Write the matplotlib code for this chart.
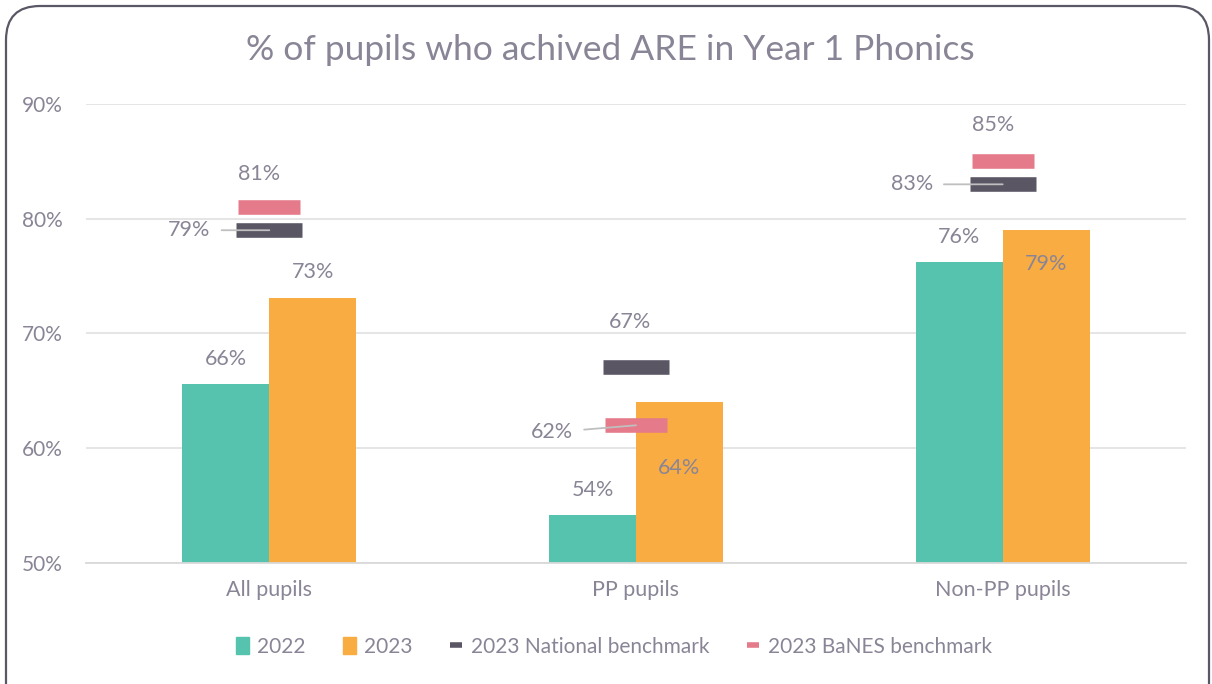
import matplotlib
matplotlib.use("Agg")
import matplotlib.pyplot as plt
import matplotlib.patches as mpatches
from matplotlib.lines import Line2D
from matplotlib.transforms import IdentityTransform
import numpy as np

categories = ["All pupils", "PP pupils", "Non-PP pupils"]
vals_2022 = [65.6, 54.2, 76.2]
vals_2023 = [73.1, 64.0, 79.0]
national = [79.0, 67.1, 83.0]
banes = [81.0, 62.0, 85.0]
labels_2022 = ["66%", "54%", "76%"]
labels_2023 = ["73%", "64%", "79%"]
labels_nat = ["79%", "67%", "83%"]
labels_banes = ["81%", "62%", "85%"]
yticks = [50, 60, 70, 80, 90]
ytick_labels = ["50%", "60%", "70%", "80%", "90%"]

TEAL = "#56C3AE"
ORANGE = "#F9AC42"
DARK = "#5B5664"
PINK = "#E57A8A"
TXT = "#8A8596"
GRID = "#E3E3E3"

plt.rcParams["font.family"] = ["Lato", "DejaVu Sans"]

W, H = 1212, 684
fig = plt.figure(figsize=(W / 100, H / 100), dpi=100)
ax = fig.add_axes([86 / W, 1 - 563 / H, 1100 / W, (563 - 104) / H])

x = np.arange(len(categories))
bw = 0.237
ax.bar(x - bw / 2, vals_2022, bw, color=TEAL, zorder=2)
ax.bar(x + bw / 2, vals_2023, bw, color=ORANGE, zorder=2)
ax.plot(x, national, linestyle="none", marker="_", markersize=47,
        markeredgewidth=10.5, color=DARK, zorder=3)
ax.plot(x, banes, linestyle="none", marker="_", markersize=44,
        markeredgewidth=10.5, color=PINK, zorder=3)

ax.set_ylim(50, 90)
ax.set_xlim(-0.5, 2.5)
ax.set_yticks(yticks)
ax.set_yticklabels(ytick_labels)
ax.set_xticks(x)
ax.set_xticklabels(categories)
ax.tick_params(axis="both", length=0, colors=TXT)
ax.tick_params(axis="y", pad=17, labelsize=15)
ax.tick_params(axis="x", pad=12, labelsize=15.5)
ax.grid(axis="y", color=GRID, linewidth=1.3, zorder=0)
for s in ["top", "right", "left"]:
    ax.spines[s].set_visible(False)
ax.spines["bottom"].set_color("#D9D9D9")
ax.spines["bottom"].set_linewidth(1.3)

PX = 0.72  # px -> points
FS = 15.5

def lab(text, xd, yd, dx, dy):
    ax.annotate(text, (xd, yd), xytext=(dx * PX, dy * PX), textcoords="offset points",
                ha="center", va="center", fontsize=FS, color=TXT, zorder=5)

for i in range(3):
    lab(labels_2022[i], x[i] - bw / 2, vals_2022[i], 0, 25)
off_2023 = [(0, 26), (0, -66), (0, -34)]
for i in range(3):
    lab(labels_2023[i], x[i] + bw / 2, vals_2023[i], *off_2023[i])

off_nat = [(-80, 0), (-6, 45), (-91, 0)]
off_banes = [(-10, 33), (-84, -7), (-10, 36)]
lead_nat = [True, False, True]
lead_banes = [False, True, False]

def bench_label(text, xd, yd, dx, dy, leader):
    if leader:
        ax.annotate(text, (xd, yd), xytext=(dx * PX, dy * PX), textcoords="offset points",
                    ha="center", va="center", fontsize=FS, color=TXT, zorder=5,
                    arrowprops=dict(arrowstyle="-", color="#BFBFBF", lw=1.3,
                                    shrinkA=6, shrinkB=0))
    else:
        lab(text, xd, yd, dx, dy)

for i in range(3):
    bench_label(labels_nat[i], x[i], national[i], *off_nat[i], lead_nat[i])
    bench_label(labels_banes[i], x[i], banes[i], *off_banes[i], lead_banes[i])

fig.text(610 / W, 1 - 50 / H, "% of pupils who achived ARE in Year 1 Phonics",
         ha="center", va="center", fontsize=25.5, color=TXT)

handles = [
    mpatches.Patch(color=TEAL, label="2022"),
    mpatches.Patch(color=ORANGE, label="2023"),
    Line2D([], [], linestyle="none", marker="_", markersize=9, markeredgewidth=4,
           color=DARK, label="2023 National benchmark"),
    Line2D([], [], linestyle="none", marker="_", markersize=9, markeredgewidth=4,
           color=PINK, label="2023 BaNES benchmark"),
]
leg = fig.legend(handles=handles, loc="center", bbox_to_anchor=(614 / W, 1 - 647 / H),
                 ncol=4, frameon=False, fontsize=15, handlelength=0.6, handleheight=0.9,
                 handletextpad=0.4, columnspacing=1.8)
for t in leg.get_texts():
    t.set_color(TXT)

border = mpatches.FancyBboxPatch((6, -40), 1203, 678 + 40, boxstyle="round,pad=0,rounding_size=34",
                                 transform=IdentityTransform(), fill=False,
                                 edgecolor="#5A5866", linewidth=1.6, figure=fig)
fig.patches.append(border)

fig.savefig("out.png", dpi=100)
